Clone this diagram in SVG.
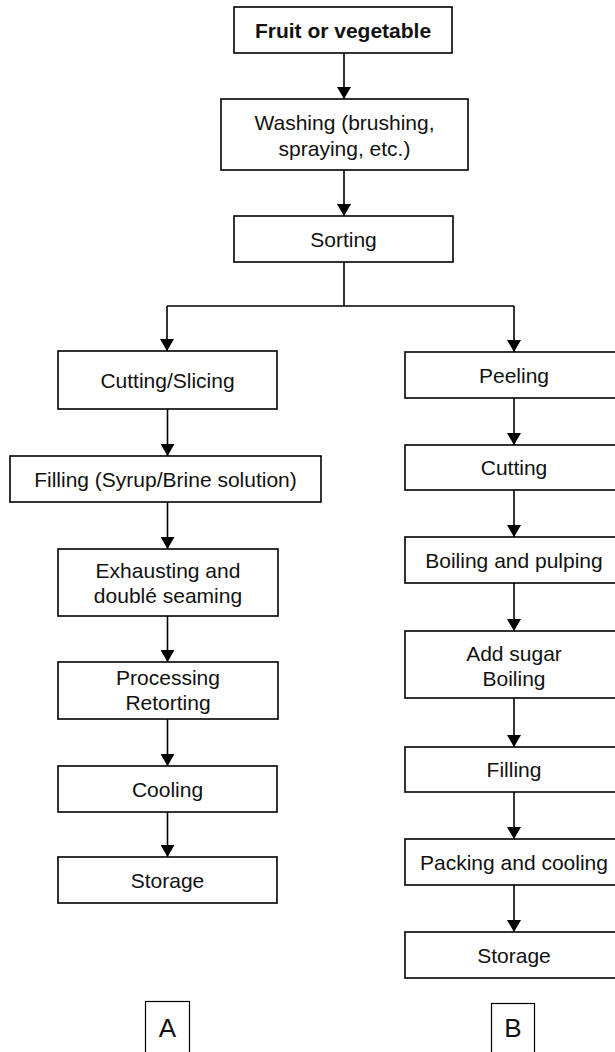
<svg xmlns="http://www.w3.org/2000/svg" width="615" height="1052" viewBox="0 0 615 1052">
<style>
.box{fill:#fff;stroke:#000;stroke-width:1.6}
.lbl{fill:#fff;stroke:#000;stroke-width:1.2}
text{font-family:"Liberation Sans",Arial,sans-serif;font-size:21px;fill:#111;text-anchor:middle}
.b{font-weight:bold}
.big{font-size:26px}
.c{fill:none;stroke:#000;stroke-width:1.6}
</style>
<defs>
<marker id="ah" markerUnits="userSpaceOnUse" markerWidth="14" markerHeight="12" refX="7" refY="12" orient="0" viewBox="0 0 14 12">
<path d="M0,0 L14,0 L7,12 Z" fill="#000"/>
</marker>
</defs>
<rect width="615" height="1052" fill="#fff"/>
<g id="connectors">
<path class="c" d="M344,53 V99" marker-end="url(#ah)"/>
<path class="c" d="M344,170 V216" marker-end="url(#ah)"/>
<path class="c" d="M344,262 V306"/>
<path class="c" d="M167,306 H514"/>
<path class="c" d="M167,306 V351" marker-end="url(#ah)"/>
<path class="c" d="M514,306 V352" marker-end="url(#ah)"/>
<path class="c" d="M167.5,409 V456" marker-end="url(#ah)"/>
<path class="c" d="M167.5,502 V549" marker-end="url(#ah)"/>
<path class="c" d="M167.5,616 V662" marker-end="url(#ah)"/>
<path class="c" d="M167.5,719 V766" marker-end="url(#ah)"/>
<path class="c" d="M167.5,812 V857" marker-end="url(#ah)"/>
<path class="c" d="M514,398 V445" marker-end="url(#ah)"/>
<path class="c" d="M514,490 V537" marker-end="url(#ah)"/>
<path class="c" d="M514,583 V631" marker-end="url(#ah)"/>
<path class="c" d="M514,698 V747" marker-end="url(#ah)"/>
<path class="c" d="M514,792 V839" marker-end="url(#ah)"/>
<path class="c" d="M514,885 V932" marker-end="url(#ah)"/>
</g>
<g id="fruit"><rect class="box" x="234" y="7" width="218" height="46"/><text class="b" x="343" y="37.5">Fruit or vegetable</text></g>
<g id="washing"><rect class="box" x="221" y="99" width="247" height="71"/><text x="344.5" y="130">Washing (brushing,</text><text x="344.5" y="156">spraying, etc.)</text></g>
<g id="sorting"><rect class="box" x="234" y="216" width="219" height="46"/><text x="343.5" y="246.5">Sorting</text></g>
<g id="cutting-slicing"><rect class="box" x="58" y="351" width="219" height="58"/><text x="167.5" y="387.5">Cutting/Slicing</text></g>
<g id="filling-syrup"><rect class="box" x="10" y="456" width="311" height="46"/><text x="165.5" y="486.5">Filling (Syrup/Brine solution)</text></g>
<g id="exhausting"><rect class="box" x="58" y="549" width="220" height="67"/><text x="168" y="578">Exhausting and</text><text x="168" y="603">doublé seaming</text></g>
<g id="processing"><rect class="box" x="58" y="662" width="220" height="57"/><text x="168" y="685">Processing</text><text x="168" y="710">Retorting</text></g>
<g id="cooling"><rect class="box" x="58" y="766" width="219" height="46"/><text x="167.5" y="796.5">Cooling</text></g>
<g id="storage-a"><rect class="box" x="58" y="857" width="219" height="46"/><text x="167.5" y="887.5">Storage</text></g>
<g id="peeling"><rect class="box" x="405" y="352" width="220" height="46"/><text x="514" y="382.5">Peeling</text></g>
<g id="cutting"><rect class="box" x="405" y="445" width="220" height="45"/><text x="514" y="475">Cutting</text></g>
<g id="boiling-pulping"><rect class="box" x="405" y="537" width="220" height="46"/><text x="514" y="567.5">Boiling and pulping</text></g>
<g id="add-sugar"><rect class="box" x="405" y="631" width="220" height="67"/><text x="514" y="660.5">Add sugar</text><text x="514" y="686">Boiling</text></g>
<g id="filling-b"><rect class="box" x="405" y="747" width="220" height="45"/><text x="514" y="777">Filling</text></g>
<g id="packing"><rect class="box" x="405" y="839" width="220" height="46"/><text x="514" y="869.5">Packing and cooling</text></g>
<g id="storage-b"><rect class="box" x="405" y="932" width="220" height="46"/><text x="514" y="962.5">Storage</text></g>
<g id="label-a"><rect class="lbl" x="145.5" y="1001.5" width="44" height="70"/><text class="big" x="167.5" y="1037">A</text></g>
<g id="label-b"><rect class="lbl" x="491.5" y="1003.5" width="43" height="70"/><text class="big" x="513" y="1037">B</text></g>
</svg>
